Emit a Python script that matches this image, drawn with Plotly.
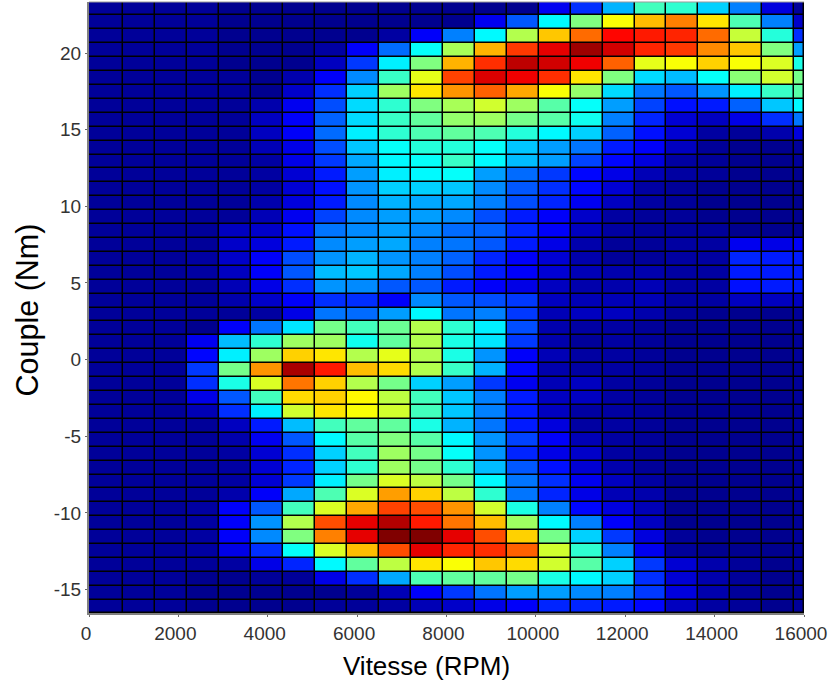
import plotly.graph_objects as go

x_edges = [0, 767, 1482, 2197, 2912, 3627, 4342, 5057, 5772, 6487, 7202, 7917, 8632, 9347,
           10062, 10777, 11492, 12207, 12922, 13637, 14352, 15067, 15782, 16000]
y_edges = [23.33, 22.45, 21.54, 20.64, 19.73, 18.82, 17.91, 17.01, 16.10, 15.19, 14.28, 13.38,
           12.47, 11.56, 10.65, 9.75, 8.84, 7.93, 7.02, 6.12, 5.21, 4.30, 3.39, 2.49, 1.58, 0.67,
           -0.24, -1.14, -2.05, -2.96, -3.87, -4.77, -5.68, -6.59, -7.50, -8.40, -9.31, -10.22,
           -11.13, -12.03, -12.94, -13.85, -14.76, -15.66, -16.53]

density = [
 [2,2,2,2,1,1,1,1,1,1,1,1,1,1,11,17,30,44,42,33,25,9,2],
 [2,2,2,2,1,1,1,1,1,1,1,1,11,21,37,50,62,69,75,65,45,25,7],
 [2,2,2,2,1,1,1,1,1,3,12,25,37,55,68,77,87,85,84,77,57,41,17],
 [2,2,2,2,1,1,1,3,12,23,38,54,70,82,90,97,92,84,82,74,68,50,28],
 [2,2,2,2,1,1,1,6,18,36,50,70,83,94,92,89,78,60,62,67,62,59,40],
 [2,2,2,2,2,1,4,12,26,43,60,81,91,89,83,65,50,34,31,38,51,58,49],
 [2,2,2,2,2,1,7,17,33,53,65,73,78,71,62,52,34,24,21,27,36,43,46],
 [2,2,2,2,2,4,11,20,34,42,50,54,58,53,46,38,28,19,14,15,22,32,37],
 [2,2,2,2,2,6,12,22,34,43,47,52,53,49,46,39,25,16,8,6,10,17,24],
 [2,2,2,2,2,6,12,23,36,42,45,47,45,41,37,33,22,14,8,3,2,4,9],
 [2,2,2,2,2,5,10,20,32,38,41,41,38,32,28,24,15,12,6,2,1,1,2],
 [2,2,2,2,2,3,10,18,29,37,38,43,37,31,28,19,13,9,3,2,1,1,2],
 [2,2,2,2,2,3,8,15,28,36,37,38,28,23,18,13,10,5,3,2,1,1,1],
 [2,2,2,2,2,3,8,14,27,33,33,32,26,21,17,13,8,3,2,1,1,1,1],
 [2,2,2,2,2,4,9,15,26,30,29,29,25,20,16,11,6,3,2,1,1,1,1],
 [2,2,2,2,2,5,11,19,26,28,28,26,20,15,12,7,3,2,2,1,1,1,1],
 [2,2,2,2,6,7,14,24,26,28,26,23,22,16,12,6,3,2,2,2,1,1,1],
 [2,2,2,2,7,9,15,26,28,29,25,24,21,15,10,4,2,2,3,3,11,10,12],
 [2,2,2,3,7,12,20,27,30,27,25,22,16,12,8,4,2,2,3,3,16,15,15],
 [2,2,2,3,6,12,21,31,32,29,25,20,15,12,8,5,4,4,3,3,15,15,15],
 [2,2,2,2,5,10,17,27,26,21,21,15,12,10,6,4,4,5,3,3,14,15,15],
 [2,2,2,2,4,7,12,17,17,12,26,21,20,18,6,5,5,5,3,3,6,6,6],
 [2,2,2,2,2,3,10,24,23,28,37,24,25,18,5,6,6,4,2,1,1,1,2],
 [2,2,2,1,12,24,35,49,44,48,55,42,36,20,4,3,3,2,1,1,1,1,2],
 [2,2,2,11,31,42,53,53,39,47,55,40,35,18,4,2,3,2,1,1,1,1,2],
 [2,2,2,13,36,53,67,65,55,60,55,40,27,12,5,3,3,2,1,1,1,1,2],
 [2,2,2,18,49,73,96,85,69,66,55,43,30,13,4,3,3,2,1,1,1,1,2],
 [2,2,2,17,40,59,76,67,55,49,33,28,18,11,5,6,3,2,1,1,1,1,2],
 [2,2,2,10,21,44,66,67,63,56,44,32,25,15,6,6,3,2,1,1,1,1,2],
 [2,2,2,5,17,36,58,65,62,58,44,32,25,15,6,3,3,2,1,1,1,1,2],
 [2,2,2,2,6,15,31,44,47,47,40,30,24,15,9,3,3,2,1,1,1,1,2],
 [2,2,2,2,4,11,21,37,46,50,46,37,27,19,12,5,3,2,1,1,1,1,2],
 [2,2,2,2,3,8,17,33,44,53,49,38,27,16,10,7,3,2,1,1,1,1,2],
 [2,2,2,2,3,8,16,33,42,53,49,42,31,21,14,8,4,2,1,1,1,1,2],
 [2,2,2,2,3,8,18,36,49,59,56,49,37,24,17,11,6,3,1,1,1,1,2],
 [2,2,2,2,4,12,29,45,59,72,67,56,42,24,16,10,5,4,1,1,1,1,2],
 [2,2,2,3,12,21,44,59,71,81,80,73,58,40,25,13,9,5,1,1,1,1,2],
 [2,2,2,3,12,27,55,80,90,95,85,76,69,53,37,25,12,6,1,1,1,1,2],
 [2,2,2,3,12,26,50,75,90,100,100,90,80,67,49,33,18,9,2,1,1,1,2],
 [2,2,2,3,10,17,38,59,69,80,90,84,83,78,58,42,25,11,2,1,1,1,2],
 [2,2,2,2,3,10,16,37,47,56,65,62,68,66,58,46,33,18,8,4,2,1,2],
 [2,2,2,1,1,2,2,10,17,29,45,47,47,49,40,37,33,17,8,4,2,1,2],
 [2,2,2,1,1,1,1,1,2,5,12,18,24,28,28,26,25,18,9,4,2,1,2],
 [2,2,2,1,1,1,1,2,2,3,5,7,10,12,16,16,15,13,6,3,2,1,2],
]

jet = [[0, "#000085"], [0.125, "#0000ff"], [0.375, "#00ffff"], [0.625, "#ffff00"],
       [0.875, "#ff0000"], [1, "#800000"]]

x_ticks = [0, 2000, 4000, 6000, 8000, 10000, 12000, 14000, 16000]
x_labels = ["0", "2000", "4000", "6000", "8000", "10000", "12000", "14000", "16000"]
y_ticks = [-15, -10, -5, 0, 5, 10, 15, 20]
y_labels = ["-15", "-10", "-5", "0", "5", "10", "15", "20"]

fig = go.Figure(go.Heatmap(x=x_edges, y=y_edges, z=density, zmin=0, zmax=100,
                           colorscale=jet, showscale=False, xgap=1.5, ygap=1.5))
axis_font = dict(family="Liberation Sans", size=19, color="#333333")
fig.update_layout(
    width=831, height=682, margin=dict(l=89, r=27, t=2, b=69),
    paper_bgcolor="white", plot_bgcolor="black",
    xaxis=dict(range=[0, 16000], tickvals=x_ticks, ticktext=x_labels, ticks="outside", ticklen=2,
               tickcolor="#666666", tickfont=axis_font, showgrid=False, zeroline=False,
               showline=True, linecolor="#808080", linewidth=2, tickangle=0, ticklabelshift=-3),
    yaxis=dict(range=[-16.53, 23.33], tickvals=y_ticks, ticktext=y_labels, ticks="outside", ticklen=2,
               tickcolor="#666666", tickfont=axis_font, showgrid=False, zeroline=False,
               showline=True, linecolor="#808080", linewidth=2),
    shapes=[dict(type="line", xref="paper", yref="paper", x0=0, x1=1, y0=1, y1=1,
                 line=dict(color="#999999", width=1))],
    annotations=[
        dict(text="Vitesse (RPM)", xref="paper", yref="paper", x=0.4727, y=0, yshift=-53,
             xanchor="center", yanchor="middle", showarrow=False,
             font=dict(family="Liberation Sans", size=26, color="black")),
        dict(text="Couple (Nm)", xref="paper", yref="paper", x=0, y=0.496, xshift=-61.5,
             xanchor="center", yanchor="middle", textangle=-90, showarrow=False,
             font=dict(family="Liberation Sans", size=30.5, color="black")),
    ],
)
fig.write_html("out.html", post_script="document.body.style.margin='0';",
               config=dict(displayModeBar=False))
